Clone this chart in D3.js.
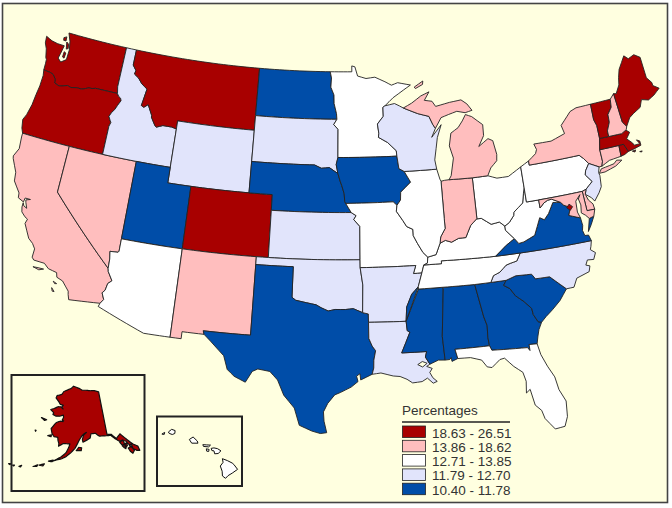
<!DOCTYPE html>
<html>
<head>
<meta charset="utf-8">
<script src="https://cdn.jsdelivr.net/npm/d3@7"></script>
<style>
  html, body { margin: 0; padding: 0; background: #fff; }
  svg { display: block; }
  text { font-family: "Liberation Sans", Arial, sans-serif; fill: #333; }
</style>
</head>
<body>
<svg id="map" width="672" height="508"></svg>
<script>
// LEGEND CLASSES
const classLabels = ['18.63 - 26.51', '13.86 - 18.62', '12.71 - 13.85', '11.79 - 12.70', '10.40 - 11.78'];
const classColors = ['#a80000', '#ffbebe', '#ffffff', '#e1e4fb', '#004da8'];

// Which class each state falls in
const class1States = ['WA', 'OR', 'MT', 'CO', 'ME', 'VT', 'MA', 'RI', 'DC', 'AK'];
const class2States = ['CA', 'NV', 'NM', 'NY', 'NH', 'CT', 'MI', 'IN', 'MD', 'DE'];
const class3States = ['AZ', 'MN', 'IL', 'MO', 'OH', 'PA', 'WV', 'KY', 'TN', 'FL', 'HI'];
const class4States = ['ID', 'WY', 'SD', 'KS', 'OK', 'AR', 'LA', 'WI', 'NC', 'NJ'];
const class5States = ['UT', 'ND', 'NE', 'IA', 'TX', 'MS', 'AL', 'GA', 'SC', 'VA'];

// STATE OUTLINES, lon/lat
const columbia = [[-116.92,46],[-118.98,46],[-119.3,45.93],[-119.6,45.92],[-120.2,45.73],[-120.65,45.74],[-121.2,45.65],[-121.55,45.72],[-122,45.6],[-122.3,45.55],[-122.75,45.65],[-122.8,45.9],[-123.1,46.15],[-123.4,46.22],[-123.9,46.25],[-124.05,46.27]];
const snake = [[-116.92,46],[-116.78,45.85],[-116.55,45.75],[-116.46,45.6],[-116.68,45.25],[-116.85,44.95],[-117.05,44.75],[-117.22,44.45],[-117.05,44.23],[-116.93,44.1],[-117.03,43.83],[-117.03,42]];
const bitterroot = [[-116.05,49],[-116.05,48],[-115.7,47.7],[-115.75,47.45],[-115.3,47.25],[-114.9,46.93],[-114.33,46.66],[-114.55,45.56],[-114.3,45.48],[-113.95,45.7],[-113.45,45.05],[-113.45,44.95],[-113,44.45],[-112.85,44.38],[-112.3,44.55],[-111.5,44.55],[-111.05,44.48]];
const coloradoNV = [[-114.04,36.2],[-114.1,36.12],[-114.75,36.08],[-114.65,35.6],[-114.63,35]];
const coloradoCA = [[-114.63,35],[-114.57,34.8],[-114.15,34.27],[-114.43,34.05],[-114.53,33.6],[-114.72,33.4],[-114.5,33],[-114.72,32.72]];
const redND = [[-97.23,49],[-97.1,48.6],[-97.15,48],[-96.85,47.5],[-96.83,46.95],[-96.6,46.3],[-96.56,45.94]];
const missouriNE = [[-98.5,43],[-97.9,42.8],[-97.2,42.85],[-96.7,42.6],[-96.45,42.49],[-96.25,42],[-96.1,41.7],[-95.9,41.2],[-95.85,40.7],[-95.77,40.58]];
const redOK = [[-94.48,33.64],[-95.2,33.9],[-95.8,33.85],[-96.6,33.85],[-97.15,33.75],[-97.7,33.95],[-98.1,34.13],[-99.2,34.3],[-99.7,34.38],[-100,34.56]];
const sabine = [[-94.04,33.02],[-94.04,31.99],[-93.8,31.5],[-93.55,31.2],[-93.7,30.6],[-93.72,30.1],[-93.85,29.7]];
const mississippiUp = [[-91.22,43.5],[-91.1,42.7],[-90.65,42.5],[-90.15,41.8],[-91.05,41.2],[-91.1,40.7],[-91.42,40.38]];
const mississippiMid = [[-91.42,40.38],[-91.5,40],[-91,39.4],[-90.7,39],[-90.2,38.8],[-90.2,38.4],[-89.9,37.9],[-89.5,37.3],[-89.13,36.98]];
const mississippiLow = [[-91.15,33],[-91.05,33.9],[-90.6,34.7],[-90.05,35.15],[-89.7,36]];
const msLaBorder = [[-89.55,30.18],[-89.85,30.65],[-89.73,31],[-91.6,31],[-90.9,32.3],[-91.1,32.4],[-91.15,33]];
const savannah = [[-83.1,35],[-83.35,34.7],[-82.9,34.45],[-82.55,33.95],[-81.95,33.5],[-81.45,33],[-81.4,32.6],[-81.12,32.1],[-80.87,32.03]];
const carolinaLine = [[-83.1,35],[-82.3,35.2],[-81.05,35.15],[-80.8,34.82],[-79.68,34.8],[-78.55,33.86]];
const tnNc = [[-81.68,36.59],[-82.05,36.12],[-82.6,36.03],[-82.95,35.95],[-83.5,35.57],[-84.05,35.4],[-84.32,34.99]];
const ohioKy = [[-89.13,36.98],[-88.45,37.1],[-88.05,37.8],[-87.6,37.95],[-87.1,37.8],[-86.5,38],[-85.9,38],[-85.7,38.3],[-85.4,38.73],[-84.85,39.1],[-84.45,39.1],[-83.7,38.65],[-83,38.72],[-82.6,38.42]];
const ohioWv = [[-82.6,38.42],[-82.2,38.6],[-81.75,39],[-81.7,39.2],[-80.85,39.7],[-80.65,40.3],[-80.52,40.64]];
const vaWv = [[-81.97,37.54],[-81.68,37.2],[-81.25,37.25],[-80.3,37.55],[-79.65,38.6],[-79.3,38.42],[-78.87,38.76],[-78.35,39.4],[-77.72,39.32]];
const potomacUp = [[-77.72,39.32],[-78.4,39.62],[-78.75,39.6],[-79.1,39.47],[-79.48,39.2],[-79.48,39.72]];
const wisLine = [[-92.29,46.66],[-92.29,46.08],[-92.85,45.6],[-92.75,45],[-92.8,44.75],[-92,44.4],[-91.25,43.85],[-91.22,43.5]];
const upperMiLine = [[-90.4,46.55],[-89.1,46.13],[-88.1,45.9],[-87.8,45.35],[-87.6,45.1]];
const nyPa = [[-74.7,41.36],[-75.05,41.75],[-75.35,42]];
const paNj = [[-74.7,41.36],[-75.1,40.95],[-75.2,40.7],[-74.75,40.2],[-75.4,39.8]];
const vtNh = [[-71.5,45.01],[-71.6,44.5],[-72.05,44.1],[-72.1,43.6],[-72.45,43.1],[-72.46,42.73]];
const bayVa = [[-76.35,38.1],[-76.95,38.3],[-77.25,38.4],[-77.04,38.8],[-77.12,38.93],[-77.5,39.1],[-77.72,39.32]];

const rev = a => a.slice().reverse();

const stateShapes = {
  WA: [
    [[-122.76,49],[-117.03,49],[-117.04,46.42],[-116.92,46],...columbia.slice(1),[-124.07,46.7],[-124.1,46.95],[-124.2,47.05],[-124.4,47.6],[-124.65,47.95],[-124.72,48.38],[-124.1,48.2],[-123.5,48.13],[-122.85,48.12],[-122.98,47.6],[-123.08,47.25],[-122.75,47.05],[-122.3,47.3],[-122.28,47.95],[-122.45,48.5]],
    [[-122.72,48.4],[-122.5,48.3],[-122.42,48.02],[-122.58,47.95]],
    [[-122.7,47.75],[-122.52,47.7],[-122.55,47.35],[-122.72,47.4]],
    [[-123.1,48.62],[-122.85,48.72],[-122.82,48.45],[-123.05,48.45]]
  ],
  OR: [[...columbia,[-123.95,45.9],[-123.97,45.2],[-124.07,44.6],[-124.15,43.9],[-124.35,43.2],[-124.55,42.84],[-124.4,42.3],[-124.21,42],...rev(snake)]],
  CA: [
    [[-124.21,42],[-120,42],[-120,39],...coloradoCA,[-117.12,32.53],[-117.25,32.85],[-117.3,33.05],[-117.9,33.6],[-118.4,33.75],[-118.5,34.03],[-119.2,34.15],[-119.6,34.42],[-120.47,34.45],[-120.65,34.6],[-120.63,35.15],[-120.9,35.45],[-121.3,35.7],[-121.9,36.55],[-121.8,36.85],[-122.05,36.95],[-122.4,37.2],[-122.5,37.5],[-122.5,37.78],[-122.38,37.6],[-122.1,37.5],[-122.3,37.85],[-122.35,38],[-122,38.1],[-122.45,38.1],[-122.5,37.83],[-123,38],[-123.05,38.3],[-123.7,38.95],[-123.8,39.5],[-124.35,40.3],[-124.4,40.45],[-124.1,41],[-124.2,41.75]],
    [[-120.4,34.03],[-120,34.05],[-119.55,34.05],[-119.9,33.93]],
    [[-118.6,33.45],[-118.3,33.35],[-118.45,33.32]],
    [[-118.6,33.03],[-118.35,32.82],[-118.5,32.82]]
  ],
  NV: [[[-120,42],[-114.04,42],...coloradoNV,[-120,39]]],
  ID: [[[-117.03,49],...bitterroot,[-111.05,42],...rev(snake),[-117.04,46.42]]],
  MT: [[...bitterroot,[-111.05,45],[-104.05,45],[-104.05,49]]],
  WY: [[[-111.05,45],[-104.05,45],[-104.05,41],[-111.05,41]]],
  UT: [[[-114.04,42],[-111.05,42],[-111.05,41],[-109.05,41],[-109.05,37],[-114.04,37]]],
  CO: [[[-109.05,41],[-102.05,41],[-102.05,37],[-109.05,37]]],
  AZ: [[[-114.04,37],[-109.05,37],[-109.05,31.33],[-111.07,31.33],[-114.81,32.5],...rev(coloradoCA),...rev(coloradoNV)]],
  NM: [[[-109.05,37],[-103.02,37],[-103.02,32],[-106.62,32],[-106.53,31.78],[-108.21,31.78],[-108.21,31.33],[-109.05,31.33]]],
  ND: [[[-104.05,49],...redND,[-104.05,45.94]]],
  SD: [[[-104.05,45.94],[-96.56,45.94],[-96.85,45.6],[-96.45,45.3],[-96.45,43.5],[-96.6,43.05],[-96.45,42.49],[-96.7,42.6],[-97.2,42.85],[-97.9,42.8],[-98.5,43],[-104.05,43]]],
  NE: [[[-104.05,43],...missouriNE,[-95.31,40],[-102.05,40],[-102.05,41],[-104.05,41]]],
  KS: [[[-102.05,40],[-95.31,40],[-94.9,39.8],[-95.1,39.55],[-94.6,39.12],[-94.62,37],[-102.05,37]]],
  OK: [[[-103.02,37],[-94.62,37],[-94.62,36.5],[-94.43,35.4],...redOK,[-100,36.5],[-103.02,36.5]]],
  TX: [[[-103.02,36.5],[-100,36.5],...rev(redOK),[-94.04,33.55],...sabine,[-94.7,29.35],[-94.75,29.75],[-95,29.6],[-94.9,29.25],[-95.4,28.9],[-96.2,28.55],[-96.6,28.4],[-97.1,27.85],[-97.4,27.3],[-97.35,26.7],[-97.15,25.96],[-97.6,25.9],[-98.2,26.05],[-99.1,26.4],[-99.5,27.5],[-100.3,28.3],[-100.8,29.25],[-101.4,29.77],[-102.3,29.88],[-102.7,29.7],[-103.15,28.98],[-104,29.3],[-104.55,29.7],[-104.9,30.55],[-106,31.4],[-106.53,31.78],[-106.62,32],[-103.02,32]]],
  MN: [[[-97.23,49],[-95.15,49],[-95.15,49.38],[-94.85,49.32],[-94.6,48.72],[-93.8,48.55],[-92.95,48.62],[-92,48.3],[-91.4,48.06],[-90.8,48.2],[-89.6,48],[-90.3,47.7],[-91.3,47.25],[-92.1,46.75],...wisLine,[-96.45,43.5],[-96.45,45.3],[-96.85,45.6],...rev(redND)]],
  IA: [[[-96.45,43.5],...mississippiUp,[-91.73,40.61],...rev(missouriNE).slice(0,6),[-96.6,43.05]]],
  MO: [[[-95.77,40.58],[-91.73,40.61],...mississippiMid,[-89.2,36.6],[-89.5,36.5],[-89.7,36],[-90.37,36],[-90.15,36.5],[-94.62,36.5],[-94.62,37],[-94.6,39.12],[-95.1,39.55],[-94.9,39.8],[-95.31,40]]],
  AR: [[[-94.62,36.5],[-90.15,36.5],[-90.37,36],...rev(mississippiLow),[-94.04,33.02],[-94.04,33.55],[-94.48,33.64],[-94.43,35.4]]],
  LA: [[...rev(msLaBorder),[-89.8,30.05],[-89.4,29.9],[-89.6,29.65],[-89.4,29.3],[-89.1,29.05],[-89.4,28.95],[-89.8,29.3],[-90.2,29.1],[-90.9,29.05],[-91.3,29.3],[-91.8,29.5],[-92.3,29.55],[-93.2,29.77],...rev(sabine)]],
  MS: [[...rev(mississippiLow).slice(1),[-90.05,35],[-88.2,35],[-88.1,34.9],[-88.47,31.9],[-88.4,30.37],[-88.9,30.4],...msLaBorder]],
  AL: [[[-88.2,35],[-85.6,34.98],[-85.18,32.87],[-85,32.3],[-85.05,31.55],[-85,31],[-87.6,31],[-87.45,30.4],[-87.9,30.25],[-87.93,30.5],[-88.05,30.38],[-88.4,30.37],[-88.47,31.9],[-88.1,34.9]]],
  GA: [[[-85.6,34.98],...savannah,[-81.15,31.6],[-81.3,31.2],[-81.45,30.72],[-82.05,30.75],[-82.05,30.36],[-82.2,30.57],[-84.86,30.7],[-85,31],[-85.05,31.55],[-85,32.3],[-85.18,32.87]]],
  FL: [[[-87.6,31],[-85,31],[-84.86,30.7],[-82.2,30.57],[-82.05,30.36],[-82.05,30.75],[-81.45,30.72],[-81.3,30],[-80.95,29.2],[-80.55,28.45],[-80.4,27.6],[-80.03,26.8],[-80.12,25.8],[-80.4,25.2],[-81.1,25.13],[-81.7,25.9],[-81.85,26.45],[-82.25,26.85],[-82.45,27.9],[-82.75,27.7],[-82.65,28.45],[-82.8,29.05],[-83.4,29.5],[-84,30.1],[-84.35,30.05],[-85,29.6],[-85.35,29.68],[-85.7,30.15],[-86.5,30.38],[-87.45,30.4]]],
  SC: [[...carolinaLine,[-79.2,33.2],[-79.9,32.7],[-80.45,32.35],...rev(savannah)]],
  NC: [[[-84.32,34.99],...carolinaLine,[-77.95,33.87],[-77.6,34.4],[-76.55,34.65],[-76.4,35],[-76.7,35.1],[-76.5,35.4],[-76,35.35],[-75.75,35.75],[-76.1,36],[-76,36.2],[-75.87,36.55],...tnNc]],
  TN: [[[-89.5,36.5],[-88.07,36.5],[-88.07,36.68],[-83.68,36.6],...tnNc,[-85.6,34.98],[-88.2,35],[-90.05,35],[-90.05,35.15],[-89.7,36]]],
  KY: [[...ohioKy,[-82.6,38.15],[-81.97,37.54],[-82.7,37.2],[-83.68,36.6],[-88.07,36.68],[-88.07,36.5],[-89.5,36.5],[-89.2,36.6]]],
  VA: [
    [[-83.68,36.6],[-81.68,36.59],[-75.87,36.55],[-76,36.93],[-76.3,36.95],[-76.4,37.3],[-76.3,37.6],...bayVa,...rev(vaWv),[-82.7,37.2]],
    [[-75.95,37.15],[-75.65,37.95],[-75.25,38.03],[-75.6,37.55]]
  ],
  WV: [[...vaWv,...potomacUp,[-80.52,39.72],...rev(ohioWv),[-82.6,38.15]]],
  OH: [[[-84.8,41.72],[-83.45,41.73],[-82.7,41.5],[-81.7,41.5],[-80.52,41.98],...rev(ohioWv),...rev(ohioKy).slice(1,4),[-84.82,39.1]]],
  IN: [[[-87.52,41.71],[-87.2,41.75],[-86.82,41.76],[-84.8,41.72],[-84.82,39.1],...ohioKy.slice(2,10).reverse(),[-87.95,38.2],[-87.53,38.7],[-87.53,39.35]]],
  IL: [[[-90.65,42.5],[-87.8,42.5],[-87.6,41.85],[-87.52,41.71],[-87.53,39.35],[-87.53,38.7],[-87.95,38.2],[-88.05,37.8],[-88.45,37.1],...rev(mississippiMid),[-91.1,40.7],[-91.05,41.2],[-90.15,41.8]]],
  WI: [[[-92.1,46.75],[-91.2,46.87],[-90.75,46.7],...upperMiLine,[-88,44.55],[-87.05,45.3],[-87.5,44.5],[-87.7,43.8],[-87.9,43.1],[-87.8,42.5],[-90.65,42.5],[-91.1,42.7],...rev(wisLine)]],
  MI: [
    [[-86.82,41.76],[-84.8,41.72],[-83.45,41.73],[-83.1,42.2],[-82.5,42.6],[-82.42,43],[-82.6,43.9],[-83,44.07],[-83.9,43.65],[-83.35,44.3],[-83.3,45],[-84.2,45.6],[-84.75,45.78],[-85.1,45.4],[-85.55,45],[-86.25,44.7],[-86.5,43.9],[-86.25,43.1],[-86.6,42]],
    [...upperMiLine,[-87,45.75],[-86.3,45.9],[-85.5,46.05],[-84.75,45.9],[-84.1,46],[-84.5,46.45],[-85,46.75],[-86.1,46.67],[-87.4,46.5],[-87.7,46.85],[-88.4,46.95],[-87.9,47.47],[-88.7,47.25],[-89.6,46.83]],
    [[-89.25,47.85],[-88.4,48.2],[-88.45,47.98],[-89.15,47.75]]
  ],
  PA: [[[-80.52,41.98],[-79.76,42.27],[-79.76,42],...rev(nyPa),...paNj.slice(1),[-75.75,39.72],[-80.52,39.72]]],
  NY: [
    [[-79.76,42.27],[-79.05,42.65],[-78.9,42.9],[-79.05,43.27],[-77.5,43.25],[-76.2,43.55],[-76.35,44.1],[-75.3,44.85],[-74.7,45],[-73.35,45.01],[-73.4,44],[-73.25,43.6],[-73.28,42.75],[-73.5,42.05],[-73.5,41.3],[-73.65,41],[-73.9,41],...nyPa,[-79.76,42]],
    [[-74,40.6],[-73.75,40.85],[-72.6,40.97],[-72.3,41.15],[-71.87,41.07],[-72.5,40.8],[-73.5,40.6]]
  ],
  NJ: [[[-74.7,41.36],[-73.9,41],[-74.05,40.65],[-74,40.45],[-74.1,39.75],[-74.4,39.4],[-74.9,38.95],[-75.1,39.2],[-75.55,39.5],...rev(paNj).slice(0,5)]],
  DE: [[[-75.75,39.72],[-75.4,39.8],[-75.55,39.5],[-75.4,39.1],[-75.1,38.8],[-75.05,38.45],[-75.7,38.46]]],
  MD: [[[-79.48,39.72],[-75.75,39.72],[-75.7,38.46],[-75.05,38.45],[-75.25,38.03],[-75.65,37.95],[-75.9,38.2],[-76.2,38.4],[-76.1,38.9],[-76.2,39.3],[-76,39.55],[-76.45,39.2],[-76.5,38.5],...bayVa,...potomacUp.slice(1)]],
  DC: [[[-77.05,39.1],[-76.8,38.9],[-77.05,38.7],[-77.3,38.9]]],
  CT: [[[-73.5,42.05],[-71.8,42.02],[-71.85,41.32],[-72.9,41.25],[-73.65,41],[-73.5,41.3]]],
  RI: [[[-71.8,42.02],[-71.38,42.02],[-71.13,41.5],[-71.5,41.37],[-71.85,41.32]]],
  MA: [
    [[-73.5,42.05],[-73.28,42.75],[-72.46,42.73],[-71.3,42.7],[-70.9,42.88],[-70.6,42.65],[-71,42.3],[-70.6,41.95],[-70.5,41.78],[-70,41.78],[-70.2,42.07],[-69.95,41.95],[-69.95,41.67],[-70.65,41.55],[-71.13,41.5],[-71.38,42.02],[-71.8,42.02]],
    [[-70.8,41.45],[-70.5,41.47],[-70.6,41.35]],
    [[-70.2,41.3],[-69.98,41.3],[-70.05,41.24]]
  ],
  VT: [[[-73.35,45.01],...vtNh,[-73.28,42.75],[-73.25,43.6],[-73.4,44]]],
  NH: [[...vtNh,[-71.3,42.7],[-70.82,42.87],[-70.7,43.07],[-70.98,43.4],[-71.08,45.3]]],
  ME: [[[-71.08,45.3],[-70.85,45.25],[-70.4,45.75],[-70.25,46.2],[-70,46.7],[-69.23,47.46],[-68.9,47.2],[-68.3,47.35],[-67.8,47.07],[-67.8,45.7],[-67.45,45.3],[-67.45,45.1],[-66.97,44.82],[-67.6,44.5],[-68.2,44.3],[-68.8,44.45],[-69.1,44],[-69.8,43.75],[-70.25,43.55],[-70.7,43.07],[-70.98,43.4]]]
};

// Small water bodies drawn over the states
const lakes = [[[-90.45,30.2],[-90.1,30.38],[-89.75,30.25],[-90.1,30.03]]];

const alaskaShapes = [
  [[-141,69.65],[-143.5,70.1],[-146,70.2],[-148.5,70.4],[-151,70.45],[-153,70.9],[-156.6,71.35],[-158,70.85],[-160,70.5],[-162.5,70],[-163.5,69.3],[-166.2,68.88],[-166.5,68.35],[-164.5,67.6],[-163.5,67.1],[-161.8,67],[-162.5,66.6],[-161.7,66.2],[-163,66.6],[-164.5,66.55],[-166.5,66],[-168.1,65.65],[-166.3,65.1],[-166.5,64.7],[-165,64.45],[-163,64.55],[-161.2,64.9],[-161,64.4],[-161.5,63.8],[-160.8,63.7],[-161,63.5],[-162.5,63.5],[-164.2,63.1],[-164.8,62.7],[-166.1,61.65],[-165.3,60.6],[-164.2,60],[-162.6,60],[-162.3,59.3],[-161.8,58.7],[-161.8,58.1],[-160,58.8],[-158.5,58.8],[-157.2,58.8],[-157.6,58],[-158.5,56.9],[-160.3,55.9],[-162.5,55.05],[-163.3,54.75],[-162,55.1],[-160,55.5],[-158.5,56],[-156.5,57],[-155,57.9],[-153.9,59],[-153.2,59.7],[-152,60.6],[-151,61],[-150,61.25],[-151.3,60.7],[-151.9,59.8],[-151.7,59.2],[-150,59.6],[-148.5,60],[-148,60.9],[-146,60.9],[-144.5,60.2],[-141,60],[-139.5,59.9],[-138,59],[-136.5,58.2],[-135.5,58.3],[-134,57.9],[-133,56.8],[-132,55.8],[-131,55.2],[-130,55],[-130.1,56],[-131.5,56.7],[-133.2,58],[-134.5,59],[-135.5,59.75],[-137.5,58.95],[-139.2,60.1],[-141,60.3]]
];
const alaskaIslands = [
  [[-154.5,57.4],[-152.5,57.4],[-152.3,58],[-153.5,58.1]],
  [[-167,60],[-165.5,60.3],[-165.5,59.9]],
  [[-171.7,63.5],[-169,63.3],[-170,63.05]],
  [[-172.9,60.5],[-172.5,60.5],[-172.6,60.3]],
  [[-168,53.4],[-166.2,53.9],[-166.6,53.4]],
  [[-164.9,54.6],[-163.2,55],[-163.5,54.6]],
  [[-170,52.8],[-168.5,53.4],[-168.7,53]],
  [[-174.8,52],[-174,52.4],[-174.2,52]],
  [[-177,51.8],[-176.4,51.95],[-176.6,51.7]],
  [[-178.5,51.8],[-177.8,51.95],[-178,51.7]],
  [[-187.2,52.9],[-186.5,52.95],[-186.7,52.75]],
  [[-136.5,58],[-135,58.3],[-134.8,57.4],[-135.8,57.2]],
  [[-135.9,57.1],[-134.9,57.3],[-134.8,56.3],[-135.3,56.6]],
  [[-134.6,57.4],[-133.9,57.5],[-133.9,56.9],[-134.5,56.6]],
  [[-133.9,56.3],[-132.6,56.4],[-131.9,55.4],[-132.8,54.9],[-133.5,55.5]],
  [[-133.2,56.9],[-132.3,56.9],[-132.2,56.2],[-133,56.4]]
];

const hawaiiShapes = [
  [[-155.9,20.25],[-155.55,20.12],[-155.2,19.95],[-155.08,19.85],[-154.82,19.52],[-155.2,19.27],[-155.5,19.1],[-155.68,18.92],[-155.9,19.08],[-155.92,19.4],[-156.05,19.75],[-155.85,20]],
  [[-156.7,20.95],[-156.5,20.98],[-156.25,20.93],[-156,20.78],[-156.2,20.6],[-156.45,20.58],[-156.5,20.78],[-156.65,20.8]],
  [[-157.3,21.2],[-156.75,21.17],[-156.88,21.05],[-157.25,21.08]],
  [[-157.05,20.92],[-156.85,20.88],[-156.88,20.74],[-157.02,20.76]],
  [[-158.27,21.55],[-158,21.72],[-157.7,21.45],[-157.65,21.3],[-158.1,21.3]],
  [[-159.78,22.05],[-159.55,22.23],[-159.3,22.15],[-159.32,21.95],[-159.5,21.88],[-159.72,21.95]],
  [[-160.25,21.9],[-160.05,22.02],[-160.08,21.88]]
];

// DRAWING
const PAGE_BG = '#ffffe0';
const LINE = '#222';

const classOf = new Map();
[class1States, class2States, class3States, class4States, class5States].forEach(function(list, i) {
  list.forEach(function(s) { classOf.set(s, classLabels[i]); });
});
const color = d3.scaleOrdinal().domain(classLabels).range(classColors);
const stateColor = s => color(classOf.get(s));

const lower48 = d3.geoConicEqualArea().parallels([29.5, 45.5]).rotate([96, 0]).center([0, 37.5]).scale(895).translate([343, 252]);
const alaskaProj = d3.geoConicEqualArea().parallels([55, 65]).rotate([154, 0]).center([0, 64]).scale(265).translate([77.5, 420]);
const hawaiiProj = d3.geoConicEqualArea().parallels([8, 18]).rotate([157, 0]).center([0, 20.5]).scale(850).translate([207, 455]);

// Split long edges so that parallels stay curved once projected
function densify(ring) {
  let out = [];
  ring.forEach(function(p, i) {
    let q = ring[(i + 1) % ring.length];
    let steps = Math.max(1, Math.ceil(Math.abs(q[0] - p[0]) / 0.5));
    d3.range(steps).forEach(function(k) {
      out.push([p[0] + (q[0] - p[0]) * k / steps, p[1] + (q[1] - p[1]) * k / steps]);
    });
  });
  return out;
}

function ringsPath(rings, proj) {
  let line = d3.line();
  return rings.map(r => line(densify(r).map(proj)) + 'Z').join('');
}

const svg = d3.select('#map');

svg.append('rect').attr('x', 2.5).attr('y', 3.5).attr('width', 665).attr('height', 499)
  .attr('fill', PAGE_BG).attr('stroke', '#444').attr('stroke-width', 1.6);

// Lower 48 and DC
svg.append('g').selectAll('path')
  .data(Object.keys(stateShapes))
  .join('path')
  .attr('class', d => 'state ' + d)
  .attr('d', d => ringsPath(stateShapes[d], lower48))
  .attr('fill', stateColor)
  .attr('stroke', LINE)
  .attr('stroke-width', 0.9)
  .attr('stroke-linejoin', 'round');

svg.append('g').selectAll('path')
  .data(lakes)
  .join('path')
  .attr('d', d => ringsPath([d], lower48))
  .attr('fill', PAGE_BG)
  .attr('stroke', LINE)
  .attr('stroke-width', 0.9);

// Alaska inset
svg.append('rect').attr('x', 11.5).attr('y', 375).attr('width', 133).attr('height', 116)
  .attr('fill', PAGE_BG).attr('stroke', LINE).attr('stroke-width', 2);
svg.append('path')
  .attr('d', ringsPath(alaskaShapes, alaskaProj) + ringsPath(alaskaIslands, alaskaProj))
  .attr('fill', stateColor('AK'))
  .attr('stroke', '#111')
  .attr('stroke-width', 1.2)
  .attr('stroke-linejoin', 'round');

// Hawaii inset
svg.append('rect').attr('x', 157).attr('y', 416.5).attr('width', 85).attr('height', 69.5)
  .attr('fill', PAGE_BG).attr('stroke', LINE).attr('stroke-width', 2);
svg.append('path')
  .attr('d', ringsPath(hawaiiShapes, hawaiiProj))
  .attr('fill', stateColor('HI'))
  .attr('stroke', '#111')
  .attr('stroke-width', 1)
  .attr('stroke-linejoin', 'round');

// Legend
const legend = svg.append('g').attr('transform', 'translate(402,0)');
legend.append('text').attr('x', 0).attr('y', 415).attr('font-size', 13.5).text('Percentages');
legend.append('line').attr('x1', 0).attr('x2', 108).attr('y1', 422).attr('y2', 422)
  .attr('stroke', '#222').attr('stroke-width', 1.5);

const legendY = d3.scalePoint().domain(classLabels).range([426, 483.2]);
const rows = legend.selectAll('g.row').data(classLabels).join('g').attr('class', 'row')
  .attr('transform', d => 'translate(0,' + legendY(d) + ')');
rows.append('rect').attr('x', 0.5).attr('y', 0).attr('width', 23).attr('height', 11.5)
  .attr('fill', d => color(d)).attr('stroke', '#222').attr('stroke-width', 0.8);
rows.append('text').attr('x', 30).attr('y', 11.5).attr('font-size', 13.5).text(d => d);
</script>
</body>
</html>
